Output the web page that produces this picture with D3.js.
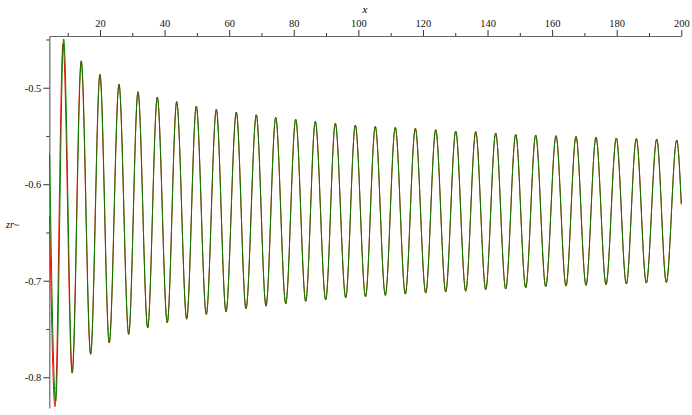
<!DOCTYPE html>
<html>
<head>
<meta charset="utf-8">
<script src="https://cdn.jsdelivr.net/npm/d3@7"></script>
<style>
  body { margin: 0; background: #fff; }
</style>
</head>
<body>
<div id="chart"></div>
<script>
// x tick labels (top axis) and minor ticks
const xTicks = [20, 40, 60, 80, 100, 120, 140, 160, 180, 200];
const xMinor = [10, 30, 50, 70, 90, 110, 130, 150, 170, 190];
const yTicks = [-0.5, -0.6, -0.7, -0.8];
const yMinor = [-0.45, -0.55, -0.65, -0.75];

// green curve: start, troughs, peaks, end
const greenStart = [4.4, -0.5687];
const greenEnd = [200, -0.620];
const greenTroughX = [6.28, 11.43, 17.12, 22.88, 28.89, 34.77, 40.84, 46.85, 52.92, 59.02, 65.21, 71.41, 77.51, 83.70, 89.89, 96.09,
  102.22, 108.35, 114.54, 120.86, 127.05, 133.24, 139.44, 145.63, 151.82, 158.02, 164.30, 170.50, 176.69, 182.98, 189.17, 195.36];
const greenTroughY = [-0.8254, -0.7949, -0.7760, -0.7642, -0.7555, -0.7487, -0.7435, -0.7390, -0.7348, -0.7321, -0.7290, -0.7259, -0.7238, -0.7213, -0.7197, -0.7176,
  -0.7166, -0.7151, -0.7138, -0.7127, -0.7117, -0.7107, -0.7093, -0.7086, -0.7073, -0.7062, -0.7055, -0.7048, -0.7041, -0.7034, -0.7024, -0.7017];
const greenPeakX = [8.76, 14.21, 20.0, 25.89, 31.77, 37.75, 43.75, 49.82, 56.02, 62.21, 68.40, 74.41, 80.60, 86.67, 92.87, 99.06,
  105.25, 111.44, 117.64, 123.96, 130.15, 136.34, 142.53, 148.73, 154.92, 161.21, 167.40, 173.59, 179.88, 186.07, 192.39, 198.58];
const greenPeakY = [-0.4495, -0.4720, -0.4861, -0.4962, -0.5041, -0.5096, -0.5151, -0.5190, -0.5224, -0.5252, -0.5280, -0.5307, -0.5327, -0.5348, -0.5373, -0.5387,
  -0.5400, -0.5410, -0.5425, -0.5435, -0.5449, -0.5459, -0.5469, -0.5483, -0.5490, -0.5497, -0.5504, -0.5514, -0.5521, -0.5528, -0.5532, -0.5542];

// red curve (mostly hidden under the green one)
const redStart = [4.4, -0.633];
const redEnd = [200, -0.621];
const redTroughX = [6.05, 11.36, 17.08, 22.85, 28.87, 34.76, 40.83, 46.84, 52.91, 59.01, 65.21, 71.40, 77.51, 83.70, 89.89, 96.09,
  102.22, 108.35, 114.54, 120.86, 127.05, 133.24, 139.44, 145.63, 151.82, 158.02, 164.30, 170.50, 176.69, 182.98, 189.17, 195.36];
const redTroughY = [-0.8306, -0.7958, -0.7764, -0.7645, -0.7557, -0.7489, -0.7436, -0.7400, -0.7350, -0.7322, -0.7291, -0.7266, -0.7239, -0.7214, -0.7198, -0.7177,
  -0.7166, -0.7152, -0.7138, -0.7128, -0.7117, -0.7110, -0.7093, -0.7086, -0.7073, -0.7062, -0.7057, -0.7048, -0.7041, -0.7034, -0.7024, -0.7017];
const redPeakX = [8.55, 14.15, 19.96, 25.87, 31.76, 37.74, 43.74, 49.81, 56.02, 62.21, 68.40, 74.41, 80.60, 86.67, 92.87, 99.06,
  105.25, 111.44, 117.64, 123.96, 130.15, 136.34, 142.53, 148.73, 154.92, 161.21, 167.40, 173.59, 179.88, 186.07, 192.39, 198.58];
const redPeakY = [-0.4540, -0.4728, -0.4864, -0.4964, -0.5042, -0.5097, -0.5141, -0.5192, -0.5225, -0.5253, -0.5281, -0.5308, -0.5328, -0.5349, -0.5366, -0.5388,
  -0.5401, -0.5411, -0.5418, -0.5436, -0.5450, -0.5452, -0.5470, -0.5484, -0.5491, -0.5498, -0.5505, -0.5510, -0.5522, -0.5525, -0.5533, -0.5543];

const width = 692, height = 415;
const serif = "'Liberation Serif', 'Times New Roman', serif";

const svg = d3.select("#chart").append("svg")
  .attr("width", width)
  .attr("height", height);

const x = d3.scaleLinear().domain([4.3, 200]).range([49.3, 681.3]);
const y = d3.scaleLinear().domain([-0.4464, -0.832]).range([36, 408.1]);

// interleave troughs and peaks into one point list
function buildPoints(start, tx, ty, px, py, end) {
  const pts = [start];
  tx.forEach((d, i) => {
    pts.push([d, ty[i]]);
    pts.push([px[i], py[i]]);
  });
  pts.push(end);
  return pts;
}

const line = d3.line()
  .x(d => x(d[0]))
  .y(d => y(d[1]))
  .curve(d3.curveMonotoneX);

// top x axis
svg.append("g").attr("transform", `translate(0,${y.range()[0]})`)
  .call(d3.axisTop(x).tickValues(xTicks).tickSize(6).tickSizeOuter(0).tickPadding(3));
svg.append("g").attr("transform", `translate(0,${y.range()[0]})`)
  .call(d3.axisTop(x).tickValues(xMinor).tickSize(3).tickSizeOuter(0).tickFormat(""))
  .select(".domain").remove();

// left y axis (plain hyphen for the minus, like the original)
svg.append("g").attr("transform", `translate(${x.range()[0]},0)`)
  .call(d3.axisLeft(y).tickValues(yTicks).tickSize(6).tickSizeOuter(0).tickPadding(2)
    .tickFormat(d => d.toFixed(1)));
svg.append("g").attr("transform", `translate(${x.range()[0]},0)`)
  .call(d3.axisLeft(y).tickValues(yMinor).tickSize(3).tickSizeOuter(0).tickFormat(""))
  .select(".domain").remove();

svg.selectAll("g").attr("font-family", serif).attr("font-size", 10.5);
svg.selectAll(".domain").attr("stroke", "#666").attr("stroke-width", 1.2);
svg.selectAll(".tick line").attr("stroke", "#333");
svg.selectAll(".tick text").attr("fill", "#111");

// curves
svg.append("path")
  .datum(buildPoints(redStart, redTroughX, redTroughY, redPeakX, redPeakY, redEnd))
  .attr("d", line)
  .attr("fill", "none")
  .attr("stroke", "#ff0000")
  .attr("stroke-width", 1);

svg.append("path")
  .datum(buildPoints(greenStart, greenTroughX, greenTroughY, greenPeakX, greenPeakY, greenEnd))
  .attr("d", line)
  .attr("fill", "none")
  .attr("stroke", "#008000")
  .attr("stroke-width", 1);

// axis titles
svg.append("text")
  .attr("x", 365).attr("y", 13)
  .attr("text-anchor", "middle")
  .attr("font-family", serif)
  .attr("font-size", 11)
  .attr("font-style", "italic")
  .text("x");

svg.append("text")
  .attr("x", 6).attr("y", 228)
  .attr("font-family", serif)
  .attr("font-size", 10)
  .attr("font-style", "italic")
  .text("zr~");
</script>
</body>
</html>
